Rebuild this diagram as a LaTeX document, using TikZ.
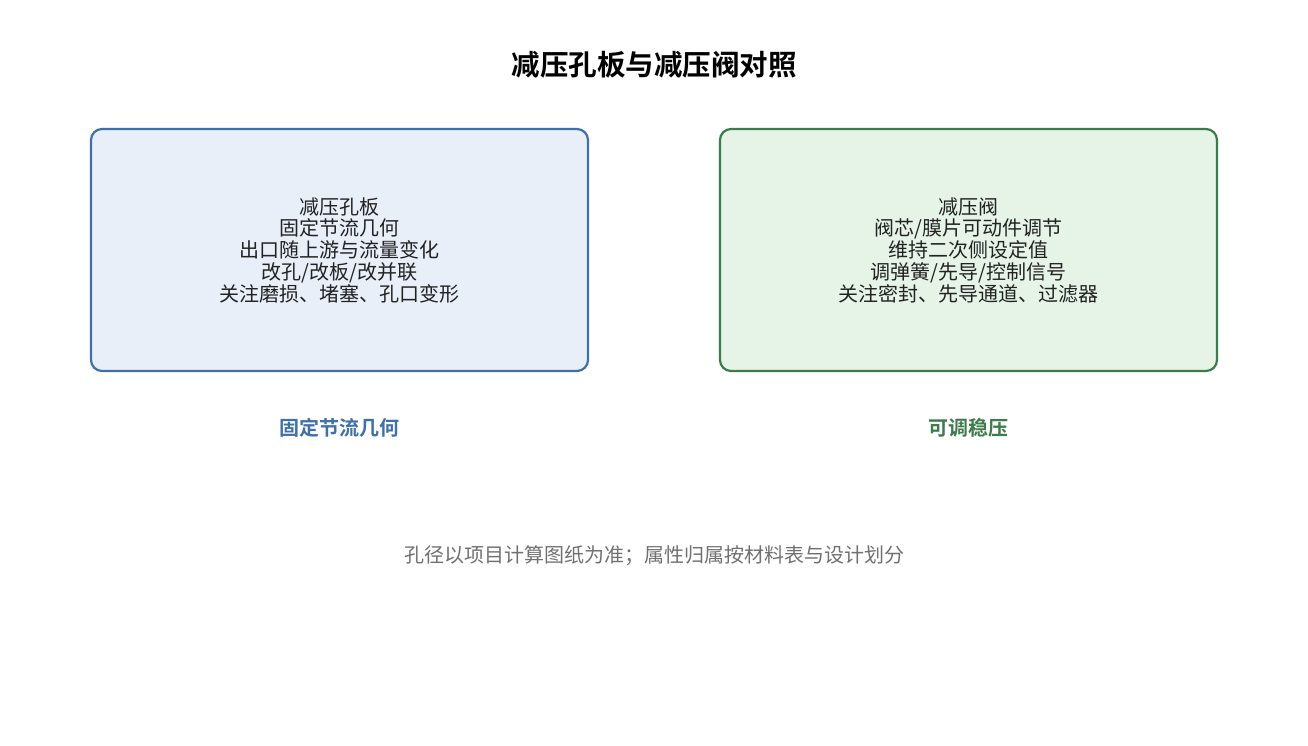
\documentclass[tikz,border=0pt]{standalone}
\usepackage{fontspec}
\setmainfont{Noto Sans CJK SC}
\newfontfamily\cjkb[FakeBold=0]{Noto Sans CJK SC Bold}
\definecolor{bstroke}{HTML}{3F70A8}
\definecolor{bfill}{HTML}{E8EFF9}
\definecolor{gstroke}{HTML}{3D7B4C}
\definecolor{gfill}{HTML}{E6F4E8}
\definecolor{txt}{HTML}{222222}
\definecolor{note}{HTML}{707070}
\begin{document}
\begin{tikzpicture}[x=1pt,y=-1pt,
  panel/.style={draw, line width=2.2pt, rounded corners=11pt, minimum width=497pt, minimum height=242pt, inner sep=0pt, align=center, text=txt, font=\fontsize{20}{21.75}\selectfont},
  tag/.style={font=\cjkb\fontsize{20}{24}\selectfont}]
\useasboundingbox (0,0) rectangle (1308,746);
\node[font=\cjkb\fontsize{28.5}{32}\selectfont, text=black] (title) at (654,65) {减压孔板与减压阀对照};
\node[panel, draw=bstroke, fill=bfill] (orifice) at (339.5,250) {减压孔板\\固定节流几何\\出口随上游与流量变化\\改孔/改板/改并联\\关注磨损、堵塞、孔口变形};
\node[panel, draw=gstroke, fill=gfill] (valve) at (968.5,250) {减压阀\\阀芯/膜片可动件调节\\维持二次侧设定值\\调弹簧/先导/控制信号\\关注密封、先导通道、过滤器};
\node[tag, text=bstroke] (ltag) at (339.5,428) {固定节流几何};
\node[tag, text=gstroke] (rtag) at (968.5,428) {可调稳压};
\node[font=\fontsize{20}{24}\selectfont, text=note] (foot) at (654,556) {孔径以项目计算图纸为准；属性归属按材料表与设计划分};
\end{tikzpicture}
\end{document}
